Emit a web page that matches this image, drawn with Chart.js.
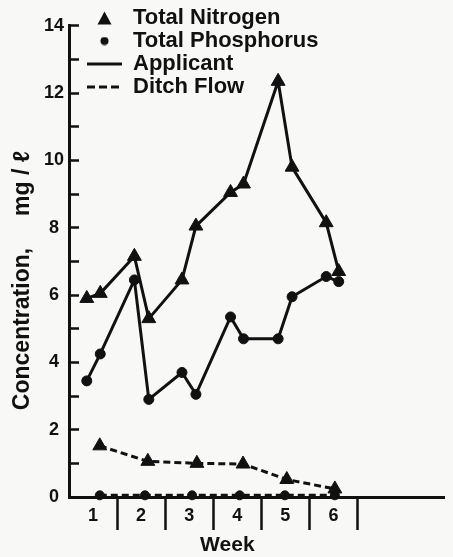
<!DOCTYPE html>
<html lang="en">
<head>
    <meta charset="UTF-8">
    <title>Concentration by week</title>
    <style>
        body { margin: 0; background: #f8f8f6; }
        .chart-box { width: 453px; height: 557px; }
    </style>
</head>
<body>
    <div class="chart-box">
        <canvas id="myChart"></canvas>
    </div>

    <script src="https://cdn.jsdelivr.net/npm/chart.js"></script>
    <script>
        // values (x = week position, y = mg/l)
        const weeksApplicant = [0.37, 0.65, 1.36, 1.66, 2.35, 2.64, 3.36, 3.63, 4.35, 4.64, 5.35, 5.61];
        const nitrogenApplicant = [5.9, 6.05, 7.15, 5.3, 6.45, 8.05, 9.05, 9.3, 12.35, 9.8, 8.15, 6.7];
        const phosphorusApplicant = [3.45, 4.25, 6.45, 2.9, 3.7, 3.05, 5.35, 4.7, 4.7, 5.95, 6.55, 6.4];

        const weeksDitchN = [0.64, 1.64, 2.66, 3.62, 4.53, 5.53];
        const nitrogenDitch = [1.52, 1.06, 1.0, 0.98, 0.52, 0.24];
        const weeksDitchP = [0.64, 1.58, 2.56, 3.55, 4.49, 5.53];
        const phosphorusDitch = [0.05, 0.05, 0.05, 0.05, 0.05, 0.05];

        const weekLabels = ['1', '2', '3', '4', '5', '6'];
        const weekTicks = [0.5, 1, 1.5, 2, 2.5, 3, 3.5, 4, 4.5, 5, 5.5, 6];
        const legendNames = ['Total Nitrogen', 'Total Phosphorus', 'Applicant', 'Ditch Flow'];

        const ink = '#111';
        Chart.defaults.font.family = "'Liberation Sans', Arial, sans-serif";
        Chart.defaults.font.weight = 'bold';
        Chart.defaults.color = ink;

        const toPoints = (xs, ys) => xs.map((x, i) => ({ x: x, y: ys[i] }));

        // little marker images for the legend (triangle and dot)
        function marker(w, h, draw) {
            const c = document.createElement('canvas');
            c.width = w; c.height = h;
            const g = c.getContext('2d');
            g.fillStyle = ink;
            g.beginPath();
            draw(g);
            g.fill();
            return c;
        }
        const legendTriangle = marker(15, 14, g => { g.moveTo(7.5, 0.5); g.lineTo(14.5, 13.5); g.lineTo(0.5, 13.5); g.closePath(); });
        const legendDot = marker(9, 9, g => g.arc(4.5, 4.5, 4, 0, Math.PI * 2));

        const legendStyles = [
            { pointStyle: legendTriangle, lineWidth: 0 },
            { pointStyle: legendDot, lineWidth: 0 },
            { pointStyle: 'line', lineWidth: 3 },
            { pointStyle: 'line', lineWidth: 3, lineDash: [8, 4] }
        ];

        function series(xs, ys, style, dashed, radius) {
            return {
                data: toPoints(xs, ys),
                borderColor: ink,
                backgroundColor: ink,
                borderWidth: 3,
                borderDash: dashed ? [7, 4] : [],
                pointStyle: style,
                pointRadius: radius,
                pointBorderWidth: 1,
                clip: false
            };
        }

        // the legend sits inside the plot, nudged to match the figure
        const legendNudge = {
            id: 'legendNudge',
            afterLayout(chart) {
                const lg = chart.legend;
                lg.left = chart.chartArea.left + 17;
                lg.top = 6;
                lg.right = chart.chartArea.right;
                lg.bottom = chart.chartArea.bottom;
            }
        };

        const config = {
            type: 'line',
            data: {
                datasets: [
                    series(weeksApplicant, nitrogenApplicant, 'triangle', false, 8),
                    series(weeksApplicant, phosphorusApplicant, 'circle', false, 5),
                    series(weeksDitchN, nitrogenDitch, 'triangle', true, 8),
                    series(weeksDitchP, phosphorusDitch, 'circle', true, 4.5)
                ]
            },
            options: {
                responsive: true,
                maintainAspectRatio: false,
                animation: false,
                layout: { padding: { top: 23, right: 0, bottom: 0, left: 0 } },
                plugins: {
                    tooltip: { enabled: false },
                    legend: {
                        position: 'chartArea',
                        align: 'start',
                        labels: {
                            usePointStyle: true,
                            pointStyleWidth: 35,
                            boxHeight: 12,
                            padding: 1,
                            font: { size: 22, weight: 'bold' },
                            generateLabels: () => legendNames.map((name, i) => ({
                                text: name,
                                fillStyle: ink,
                                strokeStyle: ink,
                                fontColor: ink,
                                lineWidth: legendStyles[i].lineWidth,
                                lineDash: legendStyles[i].lineDash || [],
                                pointStyle: legendStyles[i].pointStyle,
                                hidden: false
                            }))
                        }
                    }
                },
                scales: {
                    x: {
                        type: 'linear',
                        min: 0,
                        max: 7.8,
                        afterFit: (scale) => { scale.height = 60; },
                        afterBuildTicks: (scale) => { scale.ticks = weekTicks.map(v => ({ value: v })); },
                        border: { display: true, color: ink, width: 3 },
                        grid: {
                            drawOnChartArea: false,
                            tickLength: 33,
                            tickWidth: 2.5,
                            tickColor: (ctx) => Number.isInteger(ctx.tick.value) ? ink : 'rgba(0,0,0,0)'
                        },
                        ticks: {
                            autoSkip: false,
                            maxRotation: 0,
                            padding: -25,
                            font: { size: 18, weight: 'bold' },
                            callback: (v) => Number.isInteger(v) ? '' : weekLabels[Math.floor(v)]
                        },
                        title: {
                            display: true,
                            text: 'Week          ',
                            font: { size: 21, weight: 'bold', lineHeight: 1 },
                            padding: { top: 0, bottom: 1 }
                        }
                    },
                    y: {
                        min: 0,
                        max: 14,
                        afterFit: (scale) => { scale.width = 69; },
                        border: { display: true, color: ink, width: 3 },
                        grid: {
                            drawOnChartArea: false,
                            tickLength: -10,
                            tickWidth: 2.5,
                            tickColor: ink
                        },
                        ticks: {
                            stepSize: 1,
                            crossAlign: 'center',
                            padding: 15,
                            font: { size: 18, weight: 'bold' },
                            callback: (v) => v % 2 === 0 ? v : ''
                        },
                        title: {
                            display: true,
                            text: 'Concentration,     mg / \u2113      ',
                            font: { size: 23, weight: 'bold', lineHeight: 1.2 },
                            padding: { top: 9, bottom: 0 }
                        }
                    }
                }
            },
            plugins: [legendNudge]
        };

        const myChart = new Chart(document.getElementById('myChart'), config);
    </script>
</body>
</html>
